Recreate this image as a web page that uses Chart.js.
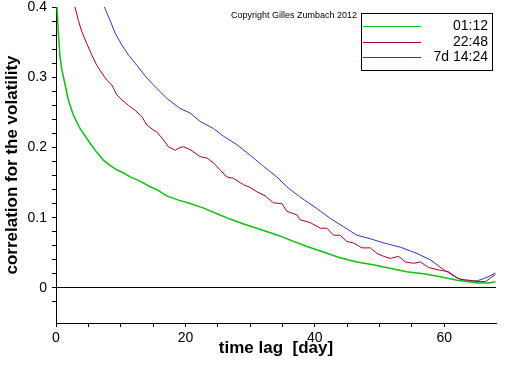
<!DOCTYPE html>
<html>
<head>
<meta charset="utf-8">
<script src="https://cdn.jsdelivr.net/npm/chart.js@4"></script>
<style>
  html, body { margin: 0; padding: 0; background: #fff; }
  #wrap { width: 512px; height: 366px; }
</style>
</head>
<body>
<div id="wrap"><canvas id="chart" width="512" height="366"></canvas></div>
<script>
//Series labels and colors
var seriesLabels = ['01:12', '22:48', '7d 14:24'];
var seriesColors = ['rgb(16, 192, 16)', 'rgb(176, 0, 32)', 'rgb(51, 51, 204)'];

//Time lag in days, correlation values
var greenDays = [0.15, 0.36, 0.62, 0.88, 1.39, 1.9, 2.68, 3.71, 5.26, 6.3, 7.32, 8.4, 9.39, 10.16, 11.45, 12.99, 14.54, 15.58, 17.12, 18.92, 20.5, 22.74, 24.8, 26.9, 29.0, 31.0, 33.0, 34.6, 36.2, 38.8, 41.3, 43.9, 46.5, 49.0, 51.6, 54.2, 56.8, 59.4, 62.0, 63.5, 65.1, 67.1, 67.9];
var greenVals = [0.400, 0.363, 0.329, 0.312, 0.290, 0.268, 0.246, 0.227, 0.206, 0.193, 0.182, 0.174, 0.168, 0.165, 0.158, 0.152, 0.144, 0.140, 0.131, 0.125, 0.121, 0.114, 0.106, 0.098, 0.091, 0.085, 0.079, 0.074, 0.068, 0.059, 0.051, 0.043, 0.037, 0.033, 0.028, 0.023, 0.020, 0.016, 0.011, 0.009, 0.007, 0.007, 0.009];

var redDays = [2.94, 3.45, 3.98, 4.75, 5.52, 6.30, 7.07, 7.84, 8.62, 9.39, 10.16, 11.18, 12.22, 13.26, 14.03, 15.05, 15.58, 16.60, 17.37, 18.41, 19.18, 19.69, 20.73, 22.27, 23.31, 24.33, 26.40, 27.42, 28.97, 30.0, 31.04, 32.33, 33.10, 33.61, 34.91, 35.68, 37.23, 37.74, 39.29, 40.84, 41.87, 42.89, 43.93, 44.96, 45.99, 47.29, 48.57, 49.61, 50.63, 51.66, 52.95, 53.98, 55.27, 56.30, 57.59, 58.89, 60.68, 61.72, 62.49, 63.78, 65.07, 66.36, 67.13, 67.90];
var redVals = [0.400, 0.381, 0.365, 0.348, 0.332, 0.317, 0.306, 0.296, 0.289, 0.275, 0.268, 0.260, 0.253, 0.244, 0.232, 0.225, 0.222, 0.211, 0.201, 0.196, 0.200, 0.201, 0.197, 0.187, 0.185, 0.178, 0.158, 0.156, 0.147, 0.143, 0.137, 0.131, 0.125, 0.121, 0.120, 0.109, 0.104, 0.097, 0.093, 0.085, 0.085, 0.075, 0.075, 0.066, 0.064, 0.057, 0.057, 0.049, 0.045, 0.042, 0.045, 0.037, 0.035, 0.037, 0.029, 0.026, 0.023, 0.016, 0.012, 0.011, 0.009, 0.009, 0.014, 0.019];

var blueDays = [7.47, 8.35, 9.13, 10.16, 11.18, 12.48, 14.03, 15.58, 17.12, 19.07, 20.73, 22.27, 24.33, 25.88, 27.95, 30.0, 32.07, 34.14, 35.68, 37.63, 40.32, 42.38, 44.44, 46.51, 48.57, 50.63, 53.21, 55.79, 57.85, 59.91, 61.98, 63.53, 65.07, 66.62, 67.90];
var blueVals = [0.400, 0.381, 0.363, 0.346, 0.332, 0.317, 0.299, 0.284, 0.270, 0.256, 0.249, 0.237, 0.227, 0.216, 0.204, 0.189, 0.173, 0.158, 0.144, 0.130, 0.113, 0.099, 0.087, 0.075, 0.070, 0.064, 0.058, 0.049, 0.040, 0.026, 0.014, 0.010, 0.010, 0.015, 0.021];

var copyright = 'Copyright Gilles Zumbach 2012';

function toPoints(days, vals){
    var pts = [];
    for(var i = 0; i < days.length; i++){
        pts.push({x: days[i], y: vals[i]});
    }
    return pts;
}

//Legend box and copyright line
var boxLegend = {
    id: 'boxLegend',
    afterDraw: function(chart){
        var ctx = chart.ctx;
        ctx.save();
        ctx.fillStyle = '#000';
        ctx.font = '9px "Liberation Sans", Arial, sans-serif';
        ctx.textBaseline = 'middle';
        ctx.textAlign = 'left';
        ctx.fillText(copyright, 231, 16);

        ctx.strokeStyle = '#000';
        ctx.lineWidth = 1;
        ctx.strokeRect(361.5, 13.5, 131, 57);
        ctx.font = '14px "Liberation Sans", Arial, sans-serif';
        ctx.textAlign = 'right';
        var rows = [26, 42, 57];
        for(var i = 0; i < seriesLabels.length; i++){
            ctx.strokeStyle = seriesColors[i];
            ctx.beginPath();
            ctx.moveTo(363, rows[i] + 0.5);
            ctx.lineTo(421, rows[i] + 0.5);
            ctx.stroke();
            ctx.fillText(seriesLabels[i], 488, rows[i]);
        }
        ctx.restore();
    }
};

var ctx = document.getElementById('chart').getContext('2d');
var chart = new Chart(ctx, {
    type: 'line',
    data: {
        datasets: [
            {label: seriesLabels[0], data: toPoints(greenDays, greenVals), borderColor: seriesColors[0], borderWidth: 1.5},
            {label: seriesLabels[1], data: toPoints(redDays, redVals), borderColor: seriesColors[1], borderWidth: 1},
            {label: seriesLabels[2], data: toPoints(blueDays, blueVals), borderColor: seriesColors[2], borderWidth: 1}
        ]
    },
    options: {
        responsive: false,
        animation: false,
        events: [],
        elements: { point: { radius: 0 }, line: { tension: 0, fill: false } },
        layout: { padding: { top: 7, right: 16, left: 0, bottom: 0 } },
        plugins: { legend: { display: false }, tooltip: { enabled: false } },
        scales: {
            x: {
                type: 'linear',
                min: 0,
                max: 68,
                afterBuildTicks: function(scale){
                    scale.ticks = scale.ticks.filter(function(t){ return Math.abs(t.value / 5 - Math.round(t.value / 5)) < 1e-6; });
                },
                afterFit: function(scale){
                    scale.height = 43;
                    scale.paddingLeft = 0;
                    scale.paddingRight = 0;
                },
                ticks: {
                    stepSize: 5,
                    padding: 3,
                    maxRotation: 0,
                    autoSkip: false,
                    color: '#000',
                    font: { family: '"Liberation Sans", Arial, sans-serif', size: 14 },
                    callback: function(v){ return v % 20 === 0 ? String(v) : ''; }
                },
                grid: { drawOnChartArea: false, tickLength: 4, tickColor: '#000' },
                border: { color: '#000', width: 1 },
                title: {
                    display: true,
                    text: 'time lag  [day]',
                    color: '#000',
                    padding: { top: 0, bottom: 7 },
                    font: { family: '"Liberation Sans", Arial, sans-serif', size: 17, weight: 'bold' }
                }
            },
            y: {
                min: -0.05,
                max: 0.4,
                afterBuildTicks: function(scale){
                    scale.ticks = scale.ticks.filter(function(t){ return Math.abs(t.value / 0.02 - Math.round(t.value / 0.02)) < 1e-6; });
                },
                afterFit: function(scale){
                    scale.width = 56;
                    scale.paddingTop = 0;
                    scale.paddingBottom = 0;
                },
                ticks: {
                    stepSize: 0.02,
                    padding: 5,
                    autoSkip: false,
                    color: '#000',
                    font: { family: '"Liberation Sans", Arial, sans-serif', size: 14 },
                    callback: function(v){
                        var r = Math.round(v * 10);
                        if(Math.abs(v * 10 - r) < 1e-6){ return r === 0 ? '0' : (r / 10).toFixed(1); }
                        return '';
                    }
                },
                grid: {
                    drawOnChartArea: true,
                    tickLength: 4,
                    tickColor: '#000',
                    color: function(c){ return (c.tick && Math.abs(c.tick.value) < 1e-9) ? '#000' : 'rgba(0,0,0,0)'; }
                },
                border: { color: '#000', width: 1 },
                title: {
                    display: true,
                    text: 'correlation for the volatility',
                    color: '#000',
                    padding: { top: 2, bottom: 0 },
                    font: { family: '"Liberation Sans", Arial, sans-serif', size: 17, weight: 'bold' }
                }
            }
        }
    },
    plugins: [boxLegend]
});
</script>
</body>
</html>
